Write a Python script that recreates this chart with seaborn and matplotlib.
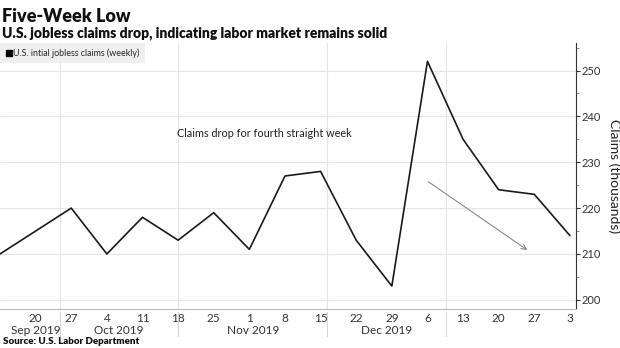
import matplotlib
matplotlib.use("Agg")
import matplotlib.pyplot as plt
from matplotlib.lines import Line2D
import seaborn as sns
import pandas as pd

# ---- data ----
week_dates = ["2019-09-13", "2019-09-20", "2019-09-27", "2019-10-04", "2019-10-11",
              "2019-10-18", "2019-10-25", "2019-11-01", "2019-11-08", "2019-11-15",
              "2019-11-22", "2019-11-29", "2019-12-06", "2019-12-13", "2019-12-20",
              "2019-12-27", "2020-01-03"]
claims = [210, 215, 220, 210, 218, 213, 219, 211, 227, 228, 213, 203, 252, 235, 224, 223, 214]
day_labels = ["20", "27", "4", "11", "18", "25", "1", "8", "15", "22", "29",
              "6", "13", "20", "27", "3"]
month_labels = ["Sep 2019", "Oct 2019", "Nov 2019", "Dec 2019"]
y_ticks = [200, 210, 220, 230, 240, 250]
series_name = "U.S. intial jobless claims (weekly)"

df = pd.DataFrame({"week": range(len(claims)), "claims": claims, "date": week_dates})

sns.set_style("white")
plt.rcParams["font.family"] = ["Lato", "DejaVu Sans"]

fig = plt.figure(figsize=(6.2, 3.48), dpi=100)
ax = fig.add_axes([0.0, 1 - 309 / 348, 576 / 620, (309 - 43) / 348])

sns.lineplot(data=df, x="week", y="claims", ax=ax, color="#1a1a1a", linewidth=1.2,
             legend=False)

# y axis on right
ax.yaxis.tick_right()
ax.yaxis.set_label_position("right")
ax.set_yticks(y_ticks)
ax.set_yticklabels([str(v) for v in y_ticks])
ax.set_yticks([v + 5 for v in y_ticks], minor=True)
ax.tick_params(axis="y", which="major", direction="out", length=3, width=0.8,
               colors="#333333", labelsize=8, pad=1, right=True)
ax.tick_params(axis="y", which="minor", direction="out", length=2, width=0.6,
               color="#777777", right=True)
ax.set_ylabel("Claims (thousands)", rotation=270, labelpad=14, fontsize=10,
              color="#222222")

# x axis
ax.set_xticks(range(1, len(claims)))
ax.set_xticklabels(day_labels)
ax.tick_params(axis="x", length=0, labelsize=8.5, colors="#333333", pad=3)
ax.set_xlabel("")

ax.set_xlim(0, 16.17)
ax.set_ylim(198, 256)

# grid
ax.grid(False)
for v in y_ticks:
    ax.axhline(v, color="#e6e6e6", lw=0.8, zorder=0)
sep_pos = [1.68, 5.01, 9.19, 12.52]
for s in sep_pos:
    ax.axvline(s, color="#e6e6e6", lw=0.8, zorder=0)
    ax.add_line(Line2D([s, s], [-0.01, -0.1], transform=ax.get_xaxis_transform(),
                       color="#d6d6d6", lw=0.8, clip_on=False))

trans = ax.get_xaxis_transform()
month_pos = [1.0, 3.34, 7.1, 10.85]
for m, p in zip(month_labels, month_pos):
    ax.text(p, -0.08, m, transform=trans, ha="center", va="center", fontsize=8.5,
            color="#333333")

for side in ["top", "left"]:
    ax.spines[side].set_visible(False)
ax.spines["right"].set_color("#333333")
ax.spines["right"].set_linewidth(0.8)
ax.spines["bottom"].set_color("#bbbbbb")
ax.spines["bottom"].set_linewidth(0.8)

# annotation
ax.text(4.96, 236.2, "Claims drop for fourth straight week", fontsize=7.8, color="#222222",
        ha="left", va="center")
ax.annotate("", xy=(14.87, 210.5), xytext=(11.96, 226.1),
            arrowprops=dict(arrowstyle="->", color="#888888", lw=0.8,
                            mutation_scale=9))

# legend
handle = Line2D([], [], marker="s", color="black", linestyle="none", markersize=4.5)
leg = ax.legend([handle], [series_name], loc="upper left", bbox_to_anchor=(0.0, 1.0),
                frameon=True, fontsize=6.4, handletextpad=0.1, borderpad=0.6,
                handlelength=0.8, borderaxespad=0.0)
leg.get_frame().set_facecolor("#ececec")
leg.get_frame().set_edgecolor("none")
leg.get_frame().set_boxstyle("square", pad=0)

# titles
fig.text(0.003, 0.978, "Five-Week Low", fontsize=13, fontweight="heavy",
         ha="left", va="top", color="#111111")
fig.text(0.003, 0.925, "U.S. jobless claims drop, indicating labor market remains solid",
         fontsize=10, fontweight="heavy", ha="left", va="top", color="#111111")
fig.text(0.005, 0.005, "Source: U.S. Labor Department", fontsize=7, fontweight="heavy",
         ha="left", va="bottom", color="#111111")

fig.savefig("out.png", dpi=100)
